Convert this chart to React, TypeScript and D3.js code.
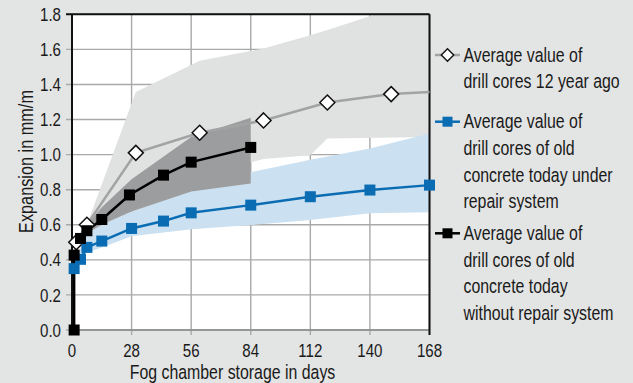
import React from "react";
import * as d3 from "d3";

const xTicks = [0, 28, 56, 84, 112, 140, 168];
const yTicks = [0, 0.2, 0.4, 0.6, 0.8, 1.0, 1.2, 1.4, 1.6, 1.8];

// 12 years ago (grey, diamonds)
const greyDays = [2, 7, 30, 60, 90, 120, 150, 180];
const greyValues = [0.5, 0.6, 1.01, 1.125, 1.195, 1.297, 1.345, 1.365];

// today under repair system (blue)
const blueDays = [1, 4, 7, 14, 28, 43, 56, 84, 112, 140, 168];
const blueValues = [0.35, 0.403, 0.471, 0.507, 0.579, 0.621, 0.668, 0.712, 0.76, 0.798, 0.826];

// today without repair system (black)
const blackDays = [1, 1, 4, 7, 14, 27, 43, 56, 84];
const blackValues = [0.0, 0.427, 0.522, 0.566, 0.63, 0.77, 0.883, 0.957, 1.041];

// scatter ranges
const greyBandDays = [7, 30, 60, 90, 112, 120, 168];
const greyBandUpper = [0.6, 1.357, 1.535, 1.605, 1.68, 1.71, 1.9];
const greyBandLower = [0.58, 0.75, 0.88, 0.975, 0.997, 1.092, 1.1];

const darkBandDays = [7, 14, 28, 56, 84];
const darkBandUpper = [0.6, 0.7, 0.86, 1.1, 1.21];
const darkBandLower = [0.55, 0.6, 0.675, 0.79, 0.836];

const blueBandDays = [1, 7, 14, 28, 56, 84, 112, 140, 168];
const blueBandUpper = [0.38, 0.55, 0.6, 0.675, 0.8, 0.9, 0.97, 1.035, 1.12];
const blueBandLower = [0.33, 0.44, 0.47, 0.535, 0.575, 0.598, 0.627, 0.665, 0.671];

const legendItems = [
  { kind: "grey", lines: ["Average value of", "drill cores 12 year ago"] },
  { kind: "blue", lines: ["Average value of", "drill cores of old", "concrete today under", "repair system"] },
  { kind: "black", lines: ["Average value of", "drill cores of old", "concrete today", "without repair system"] },
];

const W = 633;
const H = 383;
const FONT = "'Liberation Sans', Arial, sans-serif";
const SX = 0.815;
const BG = "#e3e4e4";
const LIGHT = "#e0e1e1";
const DARK = "#9c9d9e";
const LBLUE = "#cbe0f0";
const BLUE = "#0a6db3";
const GREYLINE = "#a3a3a3";
const GRID = "#a9a9a9";
const TXT = "#1a1a1a";

function CText(props: {
  x: number;
  y: number;
  size: number;
  anchor?: string;
  rotate?: number;
  sx?: number;
  children: React.ReactNode;
}) {
  const { x, y, size, anchor = "start", rotate = 0, sx = SX, children } = props;
  return (
    <text
      transform={`translate(${x},${y}) rotate(${rotate}) scale(${sx},1)`}
      textAnchor={anchor}
      fontSize={size}
      fill={TXT}
    >
      {children}
    </text>
  );
}

export default function App() {
  const L = 72, R = 429.5, T = 14.3, B = 330;
  const x = d3.scaleLinear().domain([0, 168]).range([L, R]);
  const y = d3.scaleLinear().domain([0, 1.8]).range([B, T]);

  const zip = (ds: number[], vs: number[]) => ds.map((d, i) => [d, vs[i]] as [number, number]);
  const line = d3.line<[number, number]>().x((d) => x(d[0])).y((d) => y(d[1]));
  const band = (ds: number[], up: number[], lo: number[]) =>
    d3
      .area<number>()
      .x((i) => x(ds[i]))
      .y0((i) => y(lo[i]))
      .y1((i) => y(up[i]))(ds.map((_, i) => i)) || "";

  const grey = zip(greyDays, greyValues);
  const blue = zip(blueDays, blueValues);
  const black = zip(blackDays, blackValues);
  const inDomain = (p: [number, number]) => p[0] <= 168;

  const diamond = (cx: number, cy: number, r: number) =>
    `M${cx},${cy - r}L${cx + r},${cy}L${cx},${cy + r}L${cx - r},${cy}Z`;

  const legX = 435, legX2 = 460, legTextX = 463.5;
  const legMarkerY = [55, 121.7, 233.3];
  const legBase = [61.7, 128.3, 240];
  const lineGap = 26.67;

  return (
    <svg width={W} height={H} style={{ position: "absolute", left: 0, top: 0, display: "block" }} fontFamily={FONT}>
      <defs>
        <clipPath id="plotclip">
          <rect x={L} y={T} width={R - L} height={B - T} />
        </clipPath>
      </defs>
      <rect x={0} y={0} width={W} height={H} fill={BG} />
      <rect x={L} y={T} width={R - L} height={B - T} fill="#fff" />

      {/* grid */}
      {yTicks.map((t) => (
        <line key={"gy" + t} x1={L - 6} x2={R} y1={y(t)} y2={y(t)} stroke={GRID} strokeWidth={1.4} />
      ))}
      {xTicks.map((t) => (
        <line key={"gx" + t} x1={x(t)} x2={x(t)} y1={T} y2={B + 5} stroke={GRID} strokeWidth={1.4} />
      ))}

      {/* bands */}
      <g clipPath="url(#plotclip)">
        <path d={band(greyBandDays, greyBandUpper, greyBandLower)} fill={LIGHT} />
        <path d={band(blueBandDays, blueBandUpper, blueBandLower)} fill={LBLUE} />
        <path d={band(darkBandDays, darkBandUpper, darkBandLower)} fill={DARK} />
      </g>

      {/* frame */}
      <line x1={L} x2={R} y1={B} y2={B} stroke="#8a8a8a" strokeWidth={1.5} />
      <line x1={L - 6} x2={R} y1={T} y2={T} stroke="#111" strokeWidth={2} />
      <line x1={L} x2={L} y1={T} y2={B + 5} stroke="#111" strokeWidth={2} />
      <line x1={R} x2={R} y1={T} y2={B + 5} stroke="#111" strokeWidth={2} />

      {/* lines */}
      <g clipPath="url(#plotclip)">
        <path d={line(grey) || ""} fill="none" stroke={GREYLINE} strokeWidth={2.5} />
      </g>
      <path d={line(blue) || ""} fill="none" stroke={BLUE} strokeWidth={2.5} />
      <path d={line(black) || ""} fill="none" stroke="#000" strokeWidth={2.5} />

      {/* markers */}
      {grey.filter(inDomain).map((p, i) => (
        <path key={"gd" + i} d={diamond(x(p[0]), y(p[1]), 7.5)} fill="#fff" stroke="#111" strokeWidth={1.5} />
      ))}
      {blue.map((p, i) => (
        <rect key={"bs" + i} x={x(p[0]) - 5.5} y={y(p[1]) - 5.5} width={11} height={11} fill={BLUE} />
      ))}
      {black.map((p, i) => (
        <rect key={"ks" + i} x={x(p[0]) - 5.5} y={y(p[1]) - 5.5} width={11} height={11} fill="#000" />
      ))}

      {/* tick labels */}
      {yTicks.map((t) => (
        <CText key={"ly" + t} x={61} y={y(t) + 6.6} size={18.5} anchor="end">
          {t.toFixed(1)}
        </CText>
      ))}
      {xTicks.map((t) => (
        <CText key={"lx" + t} x={x(t)} y={356.7} size={18.5} anchor="middle">
          {t}
        </CText>
      ))}

      {/* axis titles */}
      <CText x={232.5} y={379.3} size={19.5} anchor="middle">
        Fog chamber storage in days
      </CText>
      <CText x={33} y={161.5} size={19.5} anchor="middle" rotate={-90} sx={0.835}>
        Expansion in mm/m
      </CText>

      {/* legend */}
      {legendItems.map((item, k) => {
        const my = legMarkerY[k];
        const col = item.kind === "grey" ? GREYLINE : item.kind === "blue" ? BLUE : "#000";
        const cx = (legX + legX2) / 2;
        return (
          <g key={"leg" + k}>
            <line x1={legX} x2={legX2} y1={my} y2={my} stroke={col} strokeWidth={2.5} />
            {item.kind === "grey" ? (
              <path d={diamond(cx, my, 6.2)} fill="#fff" stroke="#111" strokeWidth={1.4} />
            ) : (
              <rect x={cx - 5} y={my - 5} width={10} height={10} fill={col} />
            )}
            {item.lines.map((s, j) => (
              <CText key={j} x={legTextX} y={legBase[k] + j * lineGap} size={19.5}>
                {s}
              </CText>
            ))}
          </g>
        );
      })}
    </svg>
  );
}
